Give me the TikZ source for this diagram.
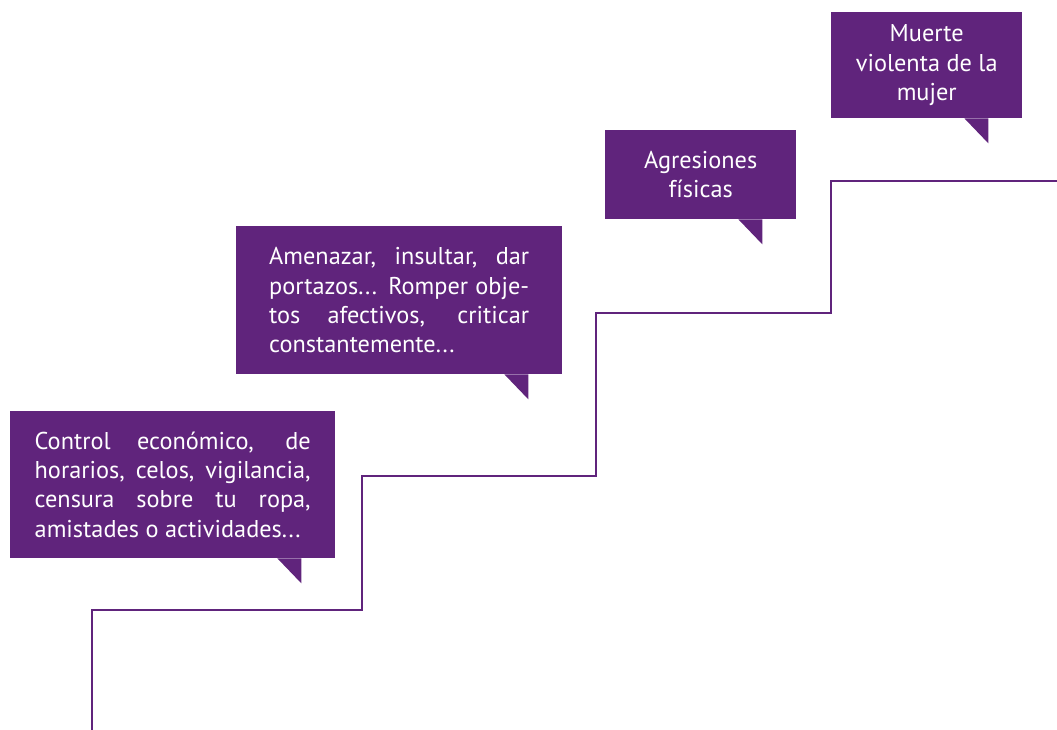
\documentclass[tikz,border=0pt]{standalone}
\usepackage{fontspec}
\setmainfont{PT Sans}
\usepackage{xcolor}
\usetikzlibrary{positioning}
\definecolor{morado}{RGB}{96,36,124}
\newcommand{\cola}[1]{\fill[morado] ([xshift=-58pt]#1.south east) -- ([xshift=-34pt,yshift=-25pt]#1.south east) -- ([xshift=-34pt]#1.south east) -- cycle;}

\begin{document}
\begin{tikzpicture}[x=1pt,y=-1pt,
              caja/.style={fill=morado, text=white, inner sep=0pt, anchor=north west,
                           font=\fontsize{24.3}{29.3}\selectfont},
              escalera/.style={line width=2.5pt, morado},
             ]
\useasboundingbox (0,0) rectangle (1057,730);
% escalera
\draw[escalera] (92,731) -- (92,610) -- (362,610) -- (362,476) -- (596,476)
      -- (596,313) -- (831,313) -- (831,181) -- (1058,181);
% cajas
\node[caja, minimum width=325pt, minimum height=147pt, text width=276pt, align=justify] (control) at (10,411)
  {Control económico, de\linebreak horarios, celos, vigilancia,\linebreak censura sobre tu ropa,\linebreak amistades o actividades...};
\node[caja, minimum width=326pt, minimum height=148pt, text width=260pt, align=justify] (amenazar) at (236,226)
  {Amenazar, insultar, dar\linebreak portazos... Romper obje-\linebreak tos afectivos, criticar\linebreak constantemente...};
\node[caja, minimum width=191pt, minimum height=89pt, align=center] (agresiones) at (605,130)
  {Agresiones\\físicas};
\node[caja, minimum width=191pt, minimum height=106pt, align=center] (muerte) at (831,12)
  {Muerte\\violenta de la\\mujer};
\cola{control}
\cola{amenazar}
\cola{agresiones}
\cola{muerte}
\end{tikzpicture}
\end{document}
